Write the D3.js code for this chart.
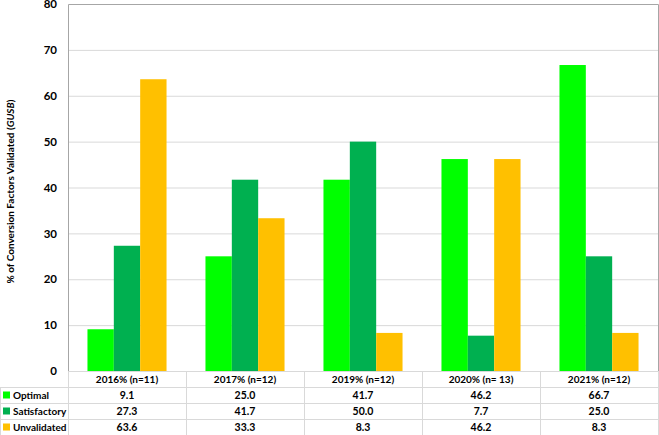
<!DOCTYPE html>
<html><head><meta charset="utf-8">
<script src="https://cdn.jsdelivr.net/npm/d3@7"></script>
<style>body{margin:0;background:#fff}svg{display:block}text{font-family:Lato,"Open Sans",sans-serif;font-weight:bold;fill:#000}</style>
</head><body><svg id="c" width="659" height="435"></svg>
<script>
const categories = ["2016% (n=11)","2017% (n=12)","2019% (n=12)","2020% (n= 13)","2021% (n=12)"];
const seriesNames = ["Optimal","Satisfactory","Unvalidated"];
const optimal = [9.1,25.0,41.7,46.2,66.7];
const satisfactory = [27.3,41.7,50.0,7.7,25.0];
const unvalidated = [63.6,33.3,8.3,46.2,8.3];
const yTicks = [0,10,20,30,40,50,60,70,80];
const colors = ["#00ff00","#00b050","#ffc000"];
const series = [optimal,satisfactory,unvalidated];

const svg = d3.select("#c");
const L=68,R=658,T=4,B=371, rowH=16;
const x = d3.scaleBand().domain(categories).range([L,R]).paddingInner(0.33).paddingOuter(0.165);
const xb = d3.scaleBand().domain(categories).range([L,R]);
const xs = d3.scaleBand().domain(seriesNames).range([0,x.bandwidth()]);
const y = d3.scaleLinear().domain([0,80]).range([B,T]);

// gridlines
svg.append("g").selectAll("line").data(yTicks.slice(1,-1)).join("line")
  .attr("x1",L).attr("x2",R).attr("y1",d=>y(d)+0.5).attr("y2",d=>y(d)+0.5)
  .attr("stroke","#d9d9d9").attr("stroke-width",1);

// bars
seriesNames.forEach((s,i)=>{
  svg.append("g").selectAll("rect").data(series[i]).join("rect")
    .attr("x",(d,j)=>x(categories[j])+xs(s)).attr("width",xs.bandwidth())
    .attr("y",d=>y(d)).attr("height",d=>B-y(d)).attr("fill",colors[i]);
});

// plot border
svg.append("path").attr("d",`M${L+0.5},${B}V${T+0.5}H${R+0.5}V${B}`).attr("fill","none").attr("stroke","#a6a6a6");

// y axis ticks
const ya = d3.axisLeft(y).tickValues(yTicks).tickSize(0).tickPadding(11);
const gy = svg.append("g").attr("transform",`translate(${L},0)`).call(ya);
gy.select(".domain").remove();
gy.selectAll("text").style("font-family","Lato,sans-serif").style("font-weight","bold").style("font-size","11.5px").attr("fill","#000");

// y label
const yl = svg.append("text").attr("transform",`translate(11,${(T+B)/2+4}) rotate(-90)`)
  .attr("text-anchor","middle").attr("dominant-baseline","middle").style("font-size","10px");
yl.append("tspan").text("% of Conversion Factors Validated (");
yl.append("tspan").style("font-style","italic").text("GUSB");
yl.append("tspan").text(")");

// table
const tg = svg.append("g");
const lineC = "#d9d9d9";
[1,2,3,4].forEach(k=>{
  tg.append("line").attr("x1",0).attr("x2",R).attr("y1",B+k*rowH+0.5).attr("y2",B+k*rowH+0.5).attr("stroke",lineC);
});
tg.append("line").attr("x1",L).attr("x2",R).attr("y1",B+0.5).attr("y2",B+0.5).attr("stroke",lineC);
categories.forEach(c=>{
  tg.append("line").attr("x1",xb(c)+0.5).attr("x2",xb(c)+0.5).attr("y1",B).attr("y2",B+4*rowH).attr("stroke",lineC);
});
tg.append("line").attr("x1",R+0.5).attr("x2",R+0.5).attr("y1",B).attr("y2",B+4*rowH).attr("stroke",lineC);
tg.append("line").attr("x1",0.5).attr("x2",0.5).attr("y1",B+rowH).attr("y2",B+4*rowH).attr("stroke",lineC);
tg.selectAll("text.h").data(categories).join("text").attr("class","h")
  .attr("x",d=>xb(d)+xb.bandwidth()/2).attr("y",B+rowH/2+1).attr("text-anchor","middle")
  .attr("dominant-baseline","middle").style("font-size","10px").text(d=>d);
seriesNames.forEach((s,i)=>{
  const ry = B+(i+1)*rowH;
  tg.append("rect").attr("x",3).attr("y",ry+rowH/2-3.5).attr("width",7).attr("height",7).attr("fill",colors[i]);
  tg.append("text").attr("x",13).attr("y",ry+rowH/2+1).attr("dominant-baseline","middle").style("font-size","10px").text(s);
  tg.selectAll(null).data(series[i]).join("text")
    .attr("x",(d,j)=>xb(categories[j])+xb.bandwidth()/2).attr("y",ry+rowH/2+1).attr("text-anchor","middle")
    .attr("dominant-baseline","middle").style("font-size","10.5px").text(d=>d.toFixed(1));
});
</script></body></html>
